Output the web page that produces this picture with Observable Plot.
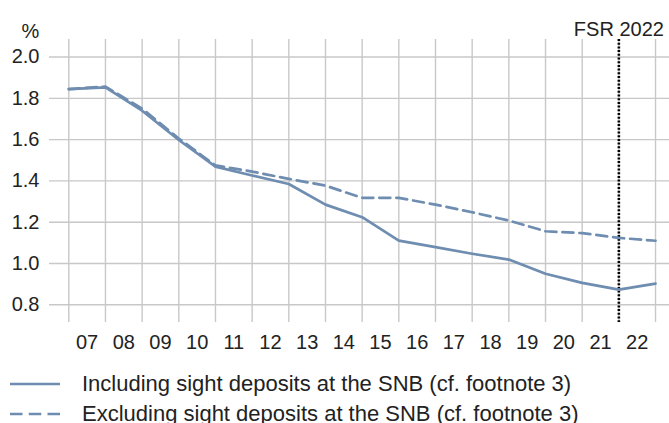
<!DOCTYPE html>
<html>
<head>
<meta charset="utf-8">
<script src="https://cdn.jsdelivr.net/npm/d3@7"></script>
<script src="https://cdn.jsdelivr.net/npm/@observablehq/plot@0.6"></script>
<style>
  html, body { margin: 0; padding: 0; background: #fff; }
  body { width: 669px; height: 423px; overflow: hidden; font-family: "Liberation Sans", Arial, sans-serif; color: #222; }
  #legend { margin-top: 9px; font-size: 22px; }
  .row { display: flex; align-items: center; height: 30px; }
  .row svg { margin-left: 10px; margin-right: 22px; flex: none; }
</style>
</head>
<body>
<div id="chart"></div>
<div id="legend"></div>
<script>
// Year-end observations (each point sits on the boundary after its year)
const yearEnds = [2006, 2007, 2008, 2009, 2010, 2011, 2012, 2013, 2014, 2015, 2016, 2017, 2018, 2019, 2020, 2021, 2022];
const including = [1.845, 1.853, 1.74, 1.598, 1.469, 1.426, 1.385, 1.285, 1.224, 1.111, 1.079, 1.047, 1.019, 0.950, 0.906, 0.873, 0.902];
const excluding = [1.845, 1.857, 1.75, 1.605, 1.475, 1.445, 1.41, 1.377, 1.318, 1.318, 1.285, 1.248, 1.208, 1.156, 1.147, 1.124, 1.110];
const seriesNames = [
  "Including sight deposits at the SNB (cf. footnote 3)",
  "Excluding sight deposits at the SNB (cf. footnote 3)"
];
const labelYears = d3.range(2007, 2023);        // 07 … 22
const yTicks = [0.8, 1.0, 1.2, 1.4, 1.6, 1.8, 2.0];
const fsrYear = 2022;                          // publication marker
const fsrLabel = "FSR 2022";

const lineColor = "#6e8db0";
const gridColor = "#c8c8c8";

const rows = yearEnds.flatMap((y, i) => [
  {x: y + 1, value: including[i], series: seriesNames[0]},
  {x: y + 1, value: excluding[i], series: seriesNames[1]}
]);

const chart = Plot.plot({
  width: 669,
  height: 360,
  marginLeft: 49,
  marginRight: 0,
  marginTop: 39,
  marginBottom: 38,
  style: {fontFamily: "Liberation Sans, Arial, sans-serif", fontSize: "20px", color: "#222", background: "#fff"},
  x: {domain: [2006.474, 2023.381]},
  y: {domain: [0.714, 2.085]},
  marks: [
    Plot.gridY({ticks: yTicks, stroke: gridColor, strokeOpacity: 1, strokeWidth: 1.4}),
    Plot.gridX({ticks: d3.range(2007, 2024), stroke: gridColor, strokeOpacity: 1, strokeWidth: 1.4}),
    Plot.axisY({ticks: yTicks, tickFormat: d3.format(".1f"), tickSize: 0, tickPadding: 10, fontSize: 20, label: null}),
    Plot.axisX({ticks: labelYears.map(d => d + 0.5), tickFormat: d => String(Math.floor(d) % 100).padStart(2, "0"), tickSize: 0, tickPadding: 12, fontSize: 20, label: null}),
    Plot.ruleX([fsrYear], {stroke: "#000", strokeWidth: 2.6, strokeDasharray: "2,1.7"}),
    Plot.line(rows.filter(d => d.series === seriesNames[1]), {x: "x", y: "value", stroke: lineColor, strokeWidth: 2.7, strokeDasharray: "11,6"}),
    Plot.line(rows.filter(d => d.series === seriesNames[0]), {x: "x", y: "value", stroke: lineColor, strokeWidth: 2.7}),
    Plot.text(["%"], {frameAnchor: "top-left", dx: -19, dy: -16, fontSize: 20, textAnchor: "middle"}),
    Plot.text([fsrYear], {x: d => d, text: () => fsrLabel, frameAnchor: "top", dy: -18, fontSize: 20, textAnchor: "middle"})
  ]
});
document.getElementById("chart").appendChild(chart);

// Legend below the chart
const legend = document.getElementById("legend");
seriesNames.forEach((name, i) => {
  const row = document.createElement("div");
  row.className = "row";
  const dash = i === 1 ? ' stroke-dasharray="12.5,6.25"' : "";
  row.innerHTML = `<svg width="50" height="6"><line x1="0" x2="50" y1="3" y2="3" stroke="${lineColor}" stroke-width="2.7"${dash}/></svg><span>${name}</span>`;
  legend.appendChild(row);
});
</script>
</body>
</html>
